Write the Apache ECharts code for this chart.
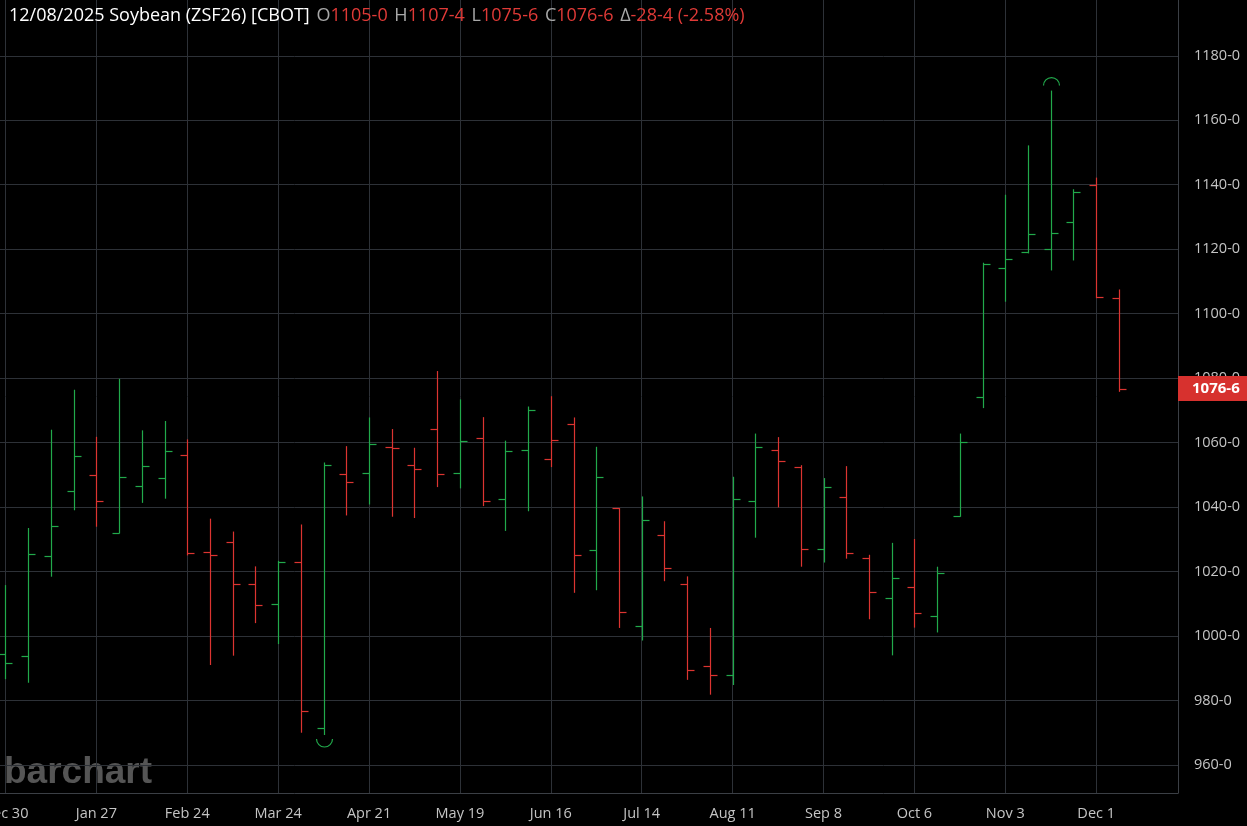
<!DOCTYPE html>
<html>
<head>
<meta charset="utf-8">
<script src="https://cdn.jsdelivr.net/npm/echarts@6/dist/echarts.min.js"></script>
<style>
html,body{margin:0;padding:0;background:#000;}
#chart{width:1247px;height:826px;}
</style>
</head>
<body>
<div id="chart"></div>
<script>
// Weekly bars, Dec 30 2024 .. Dec 8 2025
const weeks = ['Dec 30','Jan 6','Jan 13','Jan 20','Jan 27','Feb 3','Feb 10','Feb 17','Feb 24','Mar 3',
  'Mar 10','Mar 17','Mar 24','Mar 31','Apr 7','Apr 14','Apr 21','Apr 28','May 5','May 12',
  'May 19','May 26','Jun 2','Jun 9','Jun 16','Jun 23','Jun 30','Jul 7','Jul 14','Jul 21',
  'Jul 28','Aug 4','Aug 11','Aug 18','Aug 25','Sep 1','Sep 8','Sep 15','Sep 22','Sep 29',
  'Oct 6','Oct 13','Oct 20','Oct 27','Nov 3','Nov 10','Nov 17','Nov 24','Dec 1','Dec 8'];
const opens = [994.3,993.8,1024.8,1045,1050,1032,1046.5,1049,1056,1026,
  1029.1,1016.2,1009.8,1022.9,971.6,1050.3,1050.5,1058.6,1053,1064.1,
  1050.5,1061.3,1042.4,1057.6,1054.9,1065.8,1026.7,1039.7,1003.2,1031.4,
  1016.1,990.7,987.8,1042,1057.7,1052.3,1027.1,1043.1,1024.3,1011.9,
  1015.3,1006.1,1037.3,1074.1,1114.1,1119,1120.2,1128.3,1139.9,1105];
const highs = [1015.8,1033.5,1064,1076.4,1061.8,1079.8,1063.8,1066.7,1061,1036.4,
  1032.4,1021.6,1023.3,1034.6,1053.8,1058.9,1067.8,1064.2,1058.4,1082.2,
  1073.4,1067.9,1060.6,1071.2,1074.4,1067.8,1058.7,1039.7,1043.3,1035.6,
  1018.5,1002.5,1049.4,1062.8,1061.7,1053,1049,1052.7,1025.2,1028.9,
  1030.1,1021.5,1062.8,1115.8,1136.9,1152.2,1169.2,1138.6,1142.2,1107.5];
const lows = [986.6,985.5,1018.4,1039,1033.9,1031.8,1041.3,1042.6,1025,991,
  993.9,1004,997.5,970,969.3,1037.4,1040.8,1037,1036.6,1046.2,
  1045.8,1040.3,1032.6,1038.7,1052.4,1013.4,1014.2,1002.5,998.6,1017,
  986.4,981.8,984.8,1030.5,1039.9,1021.5,1022.8,1024,1005.2,994,
  1002.6,1001.1,1037,1070.7,1103.7,1118.7,1113.4,1116.5,1104.8,1075.75];
const closes = [991.7,1025.3,1034,1055.9,1042,1049.4,1052.7,1057.3,1025.8,1025,
  1016,1009.6,1022.9,976.8,1053,1047.8,1059.5,1058.2,1051.9,1050.2,
  1060.4,1041.9,1057.4,1070,1060.8,1025,1049.4,1007.5,1035.9,1021.1,
  989.6,987.8,1042.5,1058.5,1054.4,1027.1,1046.3,1025.6,1013.8,1018.1,
  1007,1019.6,1060.3,1115.4,1117.1,1124.6,1125.1,1137.7,1105.25,1076.75];
const closeBeforeFirst = 986;
const lowMarkIndex = 14;
const highMarkIndex = 46;
const xTickIndex = [0,4,8,12,16,20,24,28,32,36,40,44,48];
const yTicks = [960,980,1000,1020,1040,1060,1080,1100,1120,1140,1160,1180];
const header = {date:'12/08/2025', name:'Soybean (ZSF26) [CBOT]', o:'1105-0', h:'1107-4', l:'1075-6', c:'1076-6', chg:'-28-4 (-2.58%)'};
const lastLabel = '1076-6';

const GREEN = '#21a94b', RED = '#dc3431';
const GRIDC = '#2d3137';

const data = weeks.map((w, i) => [i, opens[i], highs[i], lows[i], closes[i], i === 0 ? closeBeforeFirst : closes[i - 1]]);

function renderItem(params, api) {
  const i = api.value(0);
  const o = api.value(1), h = api.value(2), l = api.value(3), c = api.value(4), pc = api.value(5);
  const pH = api.coord([i, h]), pL = api.coord([i, l]), pO = api.coord([i, o]), pC = api.coord([i, c]);
  const color = c >= pc ? GREEN : RED;
  const x = Math.round(pH[0]) + 0.5;
  const t = 7;
  const yo = Math.round(pO[1]) + 0.5, yc = Math.round(pC[1]) + 0.5;
  const st = {stroke: color, lineWidth: 1.2, fill: null};
  const children = [
    {type: 'line', shape: {x1: x, y1: pH[1], x2: x, y2: pL[1]}, style: st},
    {type: 'line', shape: {x1: x - t, y1: yo, x2: x, y2: yo}, style: st},
    {type: 'line', shape: {x1: x, y1: yc, x2: x + t, y2: yc}, style: st}
  ];
  if (i === lowMarkIndex) {
    children.push({type: 'arc', shape: {cx: x, cy: pL[1] + 4, r: 8, startAngle: 0, endAngle: Math.PI, clockwise: true}, style: {stroke: GREEN, lineWidth: 1.2, fill: null}});
  }
  if (i === highMarkIndex) {
    children.push({type: 'arc', shape: {cx: x, cy: pH[1] - 5, r: 8, startAngle: Math.PI, endAngle: 2 * Math.PI, clockwise: true}, style: {stroke: GREEN, lineWidth: 1.2, fill: null}});
  }
  return {type: 'group', children};
}

const chart = echarts.init(document.getElementById('chart'), null, {renderer: 'canvas'});
const font = '"Open Sans", "Noto Sans", sans-serif';
const HF = 18;
chart.setOption({
  backgroundColor: '#000',
  animation: false,
  textStyle: {fontFamily: font},
  title: {
    left: 4, top: 2,
    text: '{w|' + header.date + ' ' + header.name + '} {g|O}{r|' + header.o + '} {g|H}{r|' + header.h + '} {g|L}{r|' + header.l + '} {g|C}{r|' + header.c + '} {g|\u0394}{r|' + header.chg + '}',
    textStyle: {
      fontSize: HF, fontWeight: 'normal', fontFamily: font,
      rich: {
        w: {color: '#ffffff', fontSize: HF, fontFamily: font},
        g: {color: '#a8a8a8', fontSize: HF, fontFamily: font, padding: [0, 0, 0, 2]},
        r: {color: '#e03a37', fontSize: HF, fontFamily: font}
      }
    }
  },
  grid: {left: 0, right: 69, top: 0, bottom: 33, containLabel: false, outerBoundsMode: 'none'},
  xAxis: {
    type: 'value', min: -0.24, max: 51.6,
    axisLine: {show: true, onZero: false, lineStyle: {color: '#3b3f45', width: 1}},
    axisTick: {show: false, customValues: xTickIndex},
    axisLabel: {
      customValues: xTickIndex,
      formatter: v => weeks[Math.round(v)] || '',
      color: '#c4c4c4', fontSize: 14.5, margin: 13, fontFamily: font
    },
    splitLine: {show: true, lineStyle: {color: GRIDC, width: 1}}
  },
  yAxis: {
    type: 'value', position: 'right', min: 951.3, max: 1197.3, scale: true,
    axisLine: {show: true, onZero: false, lineStyle: {color: '#3b3f45', width: 1}},
    axisTick: {show: false, customValues: yTicks},
    axisLabel: {customValues: yTicks, formatter: v => v + '-0', color: '#c4c4c4', fontSize: 14.5, margin: 16, fontFamily: font},
    splitLine: {show: true, lineStyle: {color: GRIDC, width: 1}}
  },
  graphic: [{
    type: 'text', left: 4, top: 754, z: 0,
    style: {text: 'barchart', font: 'bold 37px "Liberation Sans", Arial, sans-serif', fill: '#555555'}
  }],
  series: [{
    type: 'custom',
    renderItem: renderItem,
    data: data,
    clip: false,
    encode: {x: 0, y: [1, 2, 3, 4]},
    markLine: {
      silent: true, symbol: 'none', animation: false,
      lineStyle: {color: 'rgba(0,0,0,0)', width: 0, type: 'solid'},
      label: {
        show: true, position: 'end', distance: 0,
        formatter: lastLabel,
        backgroundColor: '#d7312e', color: '#ffffff', fontWeight: 'bold', fontSize: 15,
        fontFamily: font, padding: [5, 8, 5, 14], opacity: 1
      },
      data: [{yAxis: closes[closes.length - 1]}]
    }
  }]
});
</script>
</body>
</html>
